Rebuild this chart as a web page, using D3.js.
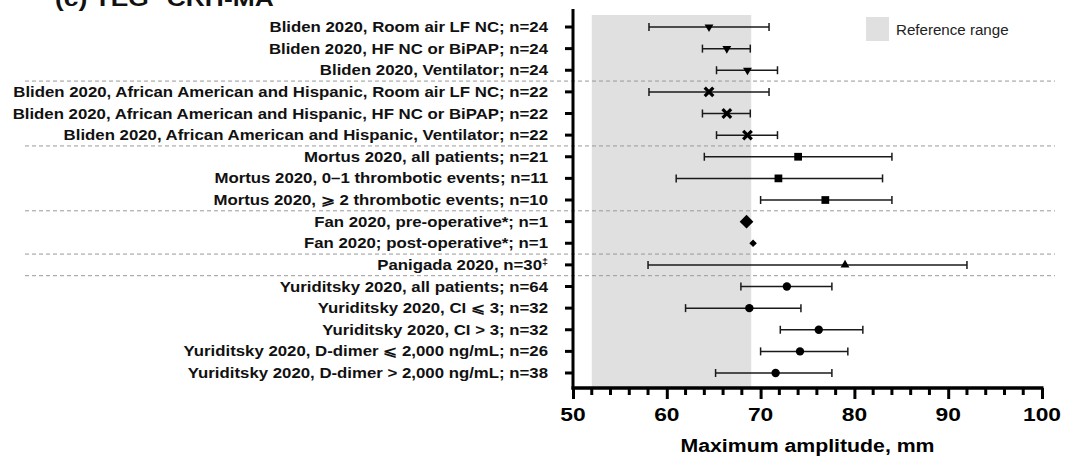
<!DOCTYPE html>
<html>
<head>
<meta charset="utf-8">
<script src="https://cdn.jsdelivr.net/npm/d3@7"></script>
<style>
  body { margin: 0; background: #fff; }
  svg { display: block; font-family: "Liberation Sans", Arial, sans-serif; }
</style>
</head>
<body>
<div id="chart"></div>
<script>
const labels = [
  "Bliden 2020, Room air LF NC; n=24",
  "Bliden 2020, HF NC or BiPAP; n=24",
  "Bliden 2020, Ventilator; n=24",
  "Bliden 2020, African American and Hispanic, Room air LF NC; n=22",
  "Bliden 2020, African American and Hispanic, HF NC or BiPAP; n=22",
  "Bliden 2020, African American and Hispanic, Ventilator; n=22",
  "Mortus 2020, all patients; n=21",
  "Mortus 2020, 0\u20131 thrombotic events; n=11",
  "Mortus 2020, \u2A7E 2 thrombotic events; n=10",
  "Fan 2020, pre-operative*; n=1",
  "Fan 2020; post-operative*; n=1",
  "Panigada 2020, n=30",
  "Yuriditsky 2020, all patients; n=64",
  "Yuriditsky 2020, CI \u2A7D 3; n=32",
  "Yuriditsky 2020, CI > 3; n=32",
  "Yuriditsky 2020, D-dimer \u2A7D 2,000 ng/mL; n=26",
  "Yuriditsky 2020, D-dimer > 2,000 ng/mL; n=38"
];
const footnotes = { 11: "\u2021" };
const centers = [64.5, 66.4, 68.6, 64.5, 66.4, 68.6, 74.0, 71.9, 76.9, 68.5, 69.2, 79.0, 72.8, 68.8, 76.2, 74.2, 71.6];
const lows    = [58.1, 63.8, 65.3, 58.1, 63.8, 65.3, 64.0, 61.0, 70.0, null, null, 58.0, 67.9, 62.0, 72.1, 70.0, 65.2];
const highs   = [70.9, 68.9, 71.8, 70.9, 68.9, 71.8, 84.0, 83.0, 84.0, null, null, 92.0, 77.6, 74.3, 80.9, 79.3, 77.6];
const markers = ["tri-down", "tri-down", "tri-down", "cross", "cross", "cross",
  "square", "square", "square", "diamond-big", "diamond-small", "tri-up",
  "circle", "circle", "circle", "circle", "circle"];
const groupBreaks = [2, 5, 8, 10, 11]; // dashed line after these rows
const refRange = [52, 69];
const xTicks = [50, 60, 70, 80, 90, 100];
const xMinorTicks = d3.range(52, 100, 2).filter(v => v % 10 !== 0);

const width = 1089, height = 459;
const sx = 1.2; // text in the source is a bit stretched sideways

const svg = d3.select("#chart").append("svg")
  .attr("width", width).attr("height", height);

const x = d3.scaleLinear().domain([50, 100]).range([573, 1042]);
const y = d3.scaleLinear().domain([0, 16]).range([27, 373]);
const axisBottomY = 388;
const axisTopY = 9;

// reference band
svg.append("rect")
  .attr("x", x(refRange[0])).attr("y", 15)
  .attr("width", x(refRange[1]) - x(refRange[0]))
  .attr("height", axisBottomY - 15)
  .attr("fill", "#e0e0e0");

// legend
svg.append("rect").attr("x", 866).attr("y", 17).attr("width", 23).attr("height", 24).attr("fill", "#e0e0e0");
svg.append("text").attr("transform", `translate(896,35) scale(1.08,1)`)
  .attr("font-size", 14).attr("fill", "#222").text("Reference range");

// group separators
svg.append("g").selectAll("line")
  .data(groupBreaks)
  .join("line")
  .attr("x1", 25).attr("x2", 1055)
  .attr("y1", d => (y(d) + y(d + 1)) / 2)
  .attr("y2", d => (y(d) + y(d + 1)) / 2)
  .attr("stroke", "#999").attr("stroke-width", 1)
  .attr("stroke-dasharray", "4,3");

// title (cut off at the top edge, as in the source)
const title = svg.append("text").attr("transform", `translate(55,6) scale(${sx},1)`)
  .attr("font-size", 22).attr("font-weight", "bold").attr("fill", "#111");
title.append("tspan").text("(c) TEG");
title.append("tspan").attr("font-size", 12).attr("dy", -8).text("\u00ae");
title.append("tspan").attr("dy", 8).text(" CRH-MA");

// y labels
const lab = svg.append("g").selectAll("text")
  .data(labels)
  .join("text")
  .attr("transform", (d, i) => `translate(548,${y(i)}) scale(${sx},1)`)
  .attr("dy", "0.36em")
  .attr("text-anchor", "end")
  .attr("font-size", 14)
  .attr("font-weight", "bold")
  .attr("fill", "#111");
lab.append("tspan").text(d => d);
lab.filter((d, i) => footnotes[i]).append("tspan")
  .attr("font-size", 9).attr("dy", "-0.5em")
  .text(d => footnotes[labels.indexOf(d)]);

// error bars
const rows = centers.map((c, i) => ({ i, c, lo: lows[i], hi: highs[i], m: markers[i] }));
const bars = svg.append("g").selectAll("g")
  .data(rows.filter(d => d.lo != null))
  .join("g")
  .attr("stroke", "#1a1a1a").attr("stroke-width", 1.5);
bars.append("line")
  .attr("x1", d => x(d.lo)).attr("x2", d => x(d.hi))
  .attr("y1", d => y(d.i)).attr("y2", d => y(d.i));
bars.append("line")
  .attr("x1", d => x(d.lo)).attr("x2", d => x(d.lo))
  .attr("y1", d => y(d.i) - 4).attr("y2", d => y(d.i) + 4);
bars.append("line")
  .attr("x1", d => x(d.hi)).attr("x2", d => x(d.hi))
  .attr("y1", d => y(d.i) - 4).attr("y2", d => y(d.i) + 4);

// markers
const symbolFor = {
  "tri-down": d3.symbol().type(d3.symbolTriangle).size(34)(),
  "tri-up": d3.symbol().type(d3.symbolTriangle).size(34)(),
  "cross": d3.symbol().type(d3.symbolX).size(50)(),
  "square": d3.symbol().type(d3.symbolSquare).size(60)(),
  "diamond-big": d3.symbol().type(d3.symbolDiamond2).size(120)(),
  "diamond-small": d3.symbol().type(d3.symbolDiamond2).size(36)(),
  "circle": d3.symbol().type(d3.symbolCircle).size(55)()
};
svg.append("g").selectAll("path")
  .data(rows)
  .join("path")
  .attr("d", d => symbolFor[d.m])
  .attr("transform", d => `translate(${x(d.c)},${y(d.i)})` + (d.m === "tri-down" ? " rotate(180)" : ""))
  .attr("fill", "#000")
  .attr("stroke", d => d.m === "cross" ? "#000" : "none")
  .attr("stroke-width", d => d.m === "cross" ? 3.2 : 0);

// y axis
svg.append("line").attr("x1", 573).attr("x2", 573)
  .attr("y1", axisTopY).attr("y2", axisBottomY + 1.5)
  .attr("stroke", "#000").attr("stroke-width", 3);
svg.append("g").selectAll("line")
  .data(labels)
  .join("line")
  .attr("x1", 565).attr("x2", 573)
  .attr("y1", (d, i) => y(i)).attr("y2", (d, i) => y(i))
  .attr("stroke", "#000").attr("stroke-width", 3);

// x axis
const xAxis = svg.append("g").attr("transform", `translate(0,${axisBottomY})`)
  .call(d3.axisBottom(x).tickValues(xTicks).tickSize(11).tickSizeOuter(0).tickFormat(""));
xAxis.select(".domain").attr("stroke-width", 3.5).attr("d", `M${x(50) - 1.5},0H${x(100) + 1.5}`);
xAxis.selectAll(".tick line").attr("stroke-width", 3);
svg.append("g").selectAll("text")
  .data(xTicks)
  .join("text")
  .attr("transform", d => `translate(${x(d)},421) scale(${sx},1)`)
  .attr("text-anchor", "middle")
  .attr("font-size", 19).attr("font-weight", "bold").attr("fill", "#000")
  .text(d => d);
svg.append("g").selectAll("line")
  .data(xMinorTicks)
  .join("line")
  .attr("x1", d => x(d)).attr("x2", d => x(d))
  .attr("y1", axisBottomY).attr("y2", axisBottomY + 7)
  .attr("stroke", "#000").attr("stroke-width", 3);

svg.append("text")
  .attr("transform", `translate(${x(75)},452) scale(1.12,1)`)
  .attr("text-anchor", "middle")
  .attr("font-size", 19).attr("font-weight", "bold").attr("fill", "#000")
  .text("Maximum amplitude, mm");
</script>
</body>
</html>
